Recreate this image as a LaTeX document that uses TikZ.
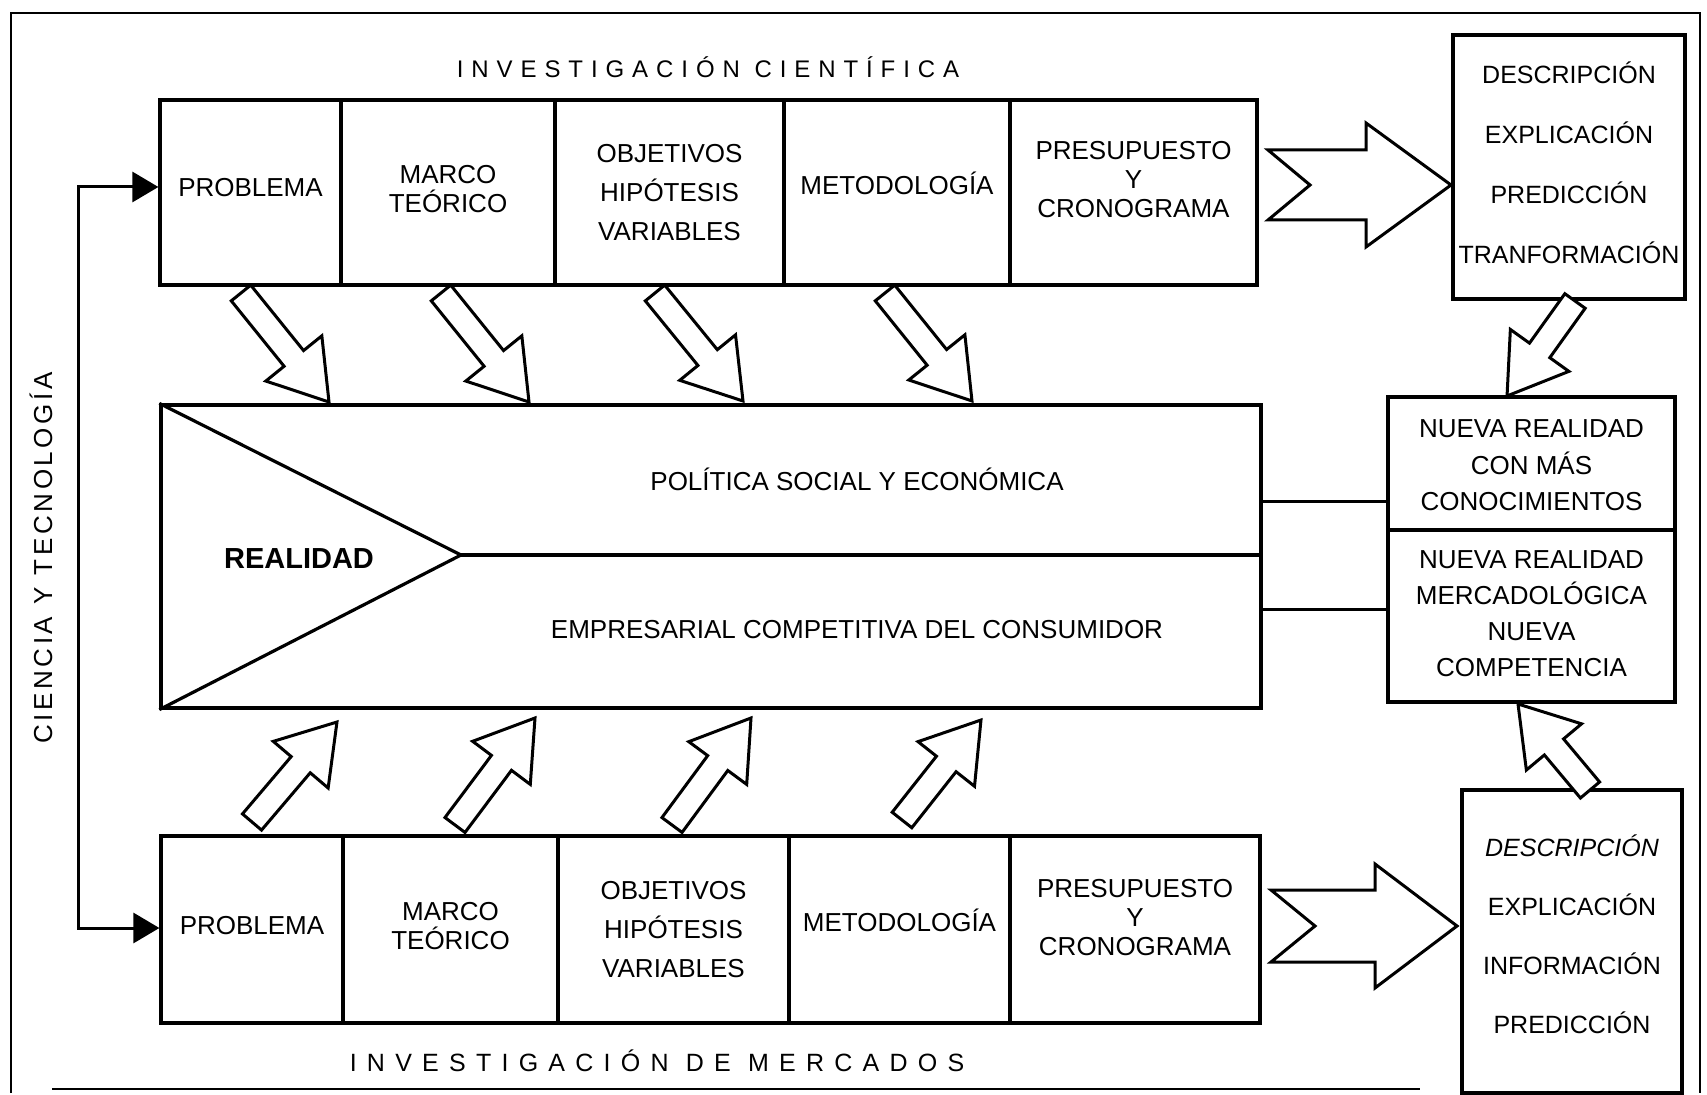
\documentclass[tikz,border=0pt]{standalone}
\usepackage{fontspec}
\setmainfont{Liberation Sans}
\newfontfamily\toptitle[LetterSpace=33]{Liberation Sans}
\newfontfamily\bottitle[LetterSpace=41]{Liberation Sans}
\newfontfamily\sidetitle[LetterSpace=14]{Liberation Sans}
\usetikzlibrary{fit,arrows.meta}

\newcommand\blkarrow[4]{%
  \pgfmathsetmacro\baang{atan2(-((#4)-(#2)),(#3)-(#1))}%
  \pgfmathsetmacro\balen{veclen((#3)-(#1),(#4)-(#2))}%
  \pgfmathsetmacro\babase{\balen-56}%
  \begin{scope}[shift={(#1,#2)},rotate=\baang]
    \draw[blk] (0,-12.5) -- (\babase,-12.5) -- (\babase,-36) -- (\balen,0)
      -- (\babase,36) -- (\babase,12.5) -- (0,12.5) -- cycle;
  \end{scope}}

\begin{document}
\begin{tikzpicture}[x=0.5pt,y=-0.5pt,
  box/.style={draw, line width=1.6pt, inner sep=0pt},
  blk/.style={draw, line width=1.5pt, fill=white, line join=miter},
  conn/.style={line width=1.5pt},
  lbl/.style={inner sep=0pt, align=center, font=\fontsize{13}{13}\selectfont}]
\useasboundingbox (0,0) rectangle (1707,1095);
% frame
\draw[line width=1.3pt] (11,1093) -- (11,13) -- (1700,13) -- (1700,1093);
\draw[line width=1.3pt] (52,1089) -- (1420,1089);

% titles
\node[inner sep=0pt, font=\toptitle\fontsize{12}{12}\selectfont] (tt) at (708,67) {INVESTIGACIÓN CIENTÍFICA};
\node[inner sep=0pt, font=\bottitle\fontsize{12.5}{12.5}\selectfont] (bt) at (657,1061) {INVESTIGACIÓN DE MERCADOS};
\node[inner sep=0pt, rotate=90, font=\sidetitle\fontsize{13}{13}\selectfont] (st) at (41,558) {CIENCIA\hspace{6pt}Y\hspace{6pt}TECNOLOGÍA};

% top row
\node[box, fit={(160,100)(341,285)}] (t1) {};
\node[box, fit={(341,100)(555,285)}] (t2) {};
\node[box, fit={(555,100)(784,285)}] (t3) {};
\node[box, fit={(784,100)(1010,285)}] (t4) {};
\node[box, fit={(1010,100)(1257,285)}] (t5) {};
\node[lbl] (t1l) at ([yshift=2.6pt]t1.center) {PROBLEMA};
\node[lbl, font=\fontsize{13}{14.5}\selectfont] (t2l) at ([yshift=1.8pt]t2.center) {MARCO\\TEÓRICO};
\node[lbl, font=\fontsize{13}{19.5}\selectfont] (t3l) at (t3.center) {OBJETIVOS\\HIPÓTESIS\\VARIABLES};
\node[lbl] (t4l) at ([yshift=4.5pt]t4.center) {METODOLOGÍA};
\node[lbl, font=\fontsize{13}{14.7}\selectfont] (t5l) at ([yshift=6.5pt]t5.center) {PRESUPUESTO\\Y\\CRONOGRAMA};

% bottom row
\node[box, fit={(161,836)(343,1023)}] (b1) {};
\node[box, fit={(343,836)(558,1023)}] (b2) {};
\node[box, fit={(558,836)(789,1023)}] (b3) {};
\node[box, fit={(789,836)(1010,1023)}] (b4) {};
\node[box, fit={(1010,836)(1260,1023)}] (b5) {};
\node[lbl] (b1l) at ([yshift=2.1pt]b1.center) {PROBLEMA};
\node[lbl, font=\fontsize{13}{14.5}\selectfont] (b2l) at ([yshift=1.8pt]b2.center) {MARCO\\TEÓRICO};
\node[lbl, font=\fontsize{13}{19.5}\selectfont] (b3l) at (b3.center) {OBJETIVOS\\HIPÓTESIS\\VARIABLES};
\node[lbl] (b4l) at ([yshift=4.5pt]b4.center) {METODOLOGÍA};
\node[lbl, font=\fontsize{13}{14.7}\selectfont] (b5l) at ([yshift=6pt]b5.center) {PRESUPUESTO\\Y\\CRONOGRAMA};

% right boxes
\node[box, fit={(1453,35)(1685,299)}] (tr) {};
\node[lbl, font=\fontsize{12.5}{30}\selectfont] (trl) at ([yshift=2.1pt]tr.center) {DESCRIPCIÓN\\EXPLICACIÓN\\PREDICCIÓN\\TRANFORMACIÓN};
\node[box, fit={(1462,790)(1682,1093)}] (br) {};
\node[lbl, font=\fontsize{12.5}{29.5}\selectfont] (brl) at ([yshift=3.75pt]br.center) {\textit{DESCRIPCIÓN}\\EXPLICACIÓN\\INFORMACIÓN\\PREDICCIÓN};
\node[box, fit={(1388,397)(1675,530)}] (ru) {};
\node[lbl, font=\fontsize{13}{18.2}\selectfont] (rul) at ([yshift=-1pt]ru.center) {NUEVA REALIDAD\\CON MÁS\\CONOCIMIENTOS};
\node[box, fit={(1388,530)(1675,702)}] (rl) {};
\node[lbl, font=\fontsize{13}{18}\selectfont] (rll) at ([yshift=1.1pt]rl.center) {NUEVA REALIDAD\\MERCADOLÓGICA\\NUEVA\\COMPETENCIA};

% center box
\node[box, fit={(161,405)(1261,708)}] (cb) {};
\coordinate (ctip) at (461,555);
\draw[line width=1.6pt] (cb.north west) -- (ctip) -- (cb.south west);
\draw[line width=1.6pt] (ctip) -- (cb.east |- ctip);
\node[lbl, font=\fontsize{14.5}{14.5}\selectfont\bfseries] (real) at (299,559) {REALIDAD};
\node[lbl] (pol) at (857,479) {POLÍTICA SOCIAL Y ECONÓMICA};
\node[lbl] (emp) at (857,630) {EMPRESARIAL COMPETITIVA DEL CONSUMIDOR};

% connectors
\draw[conn] (cb.east |- 0,502) -- (ru.west |- 0,502);
\draw[conn] (cb.east |- 0,610) -- (rl.west |- 0,610);
\coordinate (lk) at (78,557);
\draw[conn, -{Triangle[length=13pt,width=15pt]}] (lk) |- (t1.west |- 0,187);
\draw[conn, -{Triangle[length=13pt,width=15pt]}] (lk) |- (b1.west |- 0,928);

% big horizontal arrows
\draw[blk] (1268,150) -- (1366,150) -- (1366,123) -- (1451,185) -- (1366,247)
  -- (1366,220) -- (1268,220) -- (1310,185) -- cycle;
\draw[blk] (1271,890) -- (1375,890) -- (1375,864) -- (1457,926) -- (1375,988)
  -- (1375,962) -- (1271,962) -- (1315,926) -- cycle;

% diagonal arrows down
\blkarrow{241}{293}{329}{402}
\blkarrow{441}{293}{529}{402}
\blkarrow{655}{293}{743}{401}
\blkarrow{885}{293}{972}{401}
% diagonal arrows up
\blkarrow{252}{822}{337}{722}
\blkarrow{455}{825}{535}{718}
\blkarrow{672}{825}{751}{718}
\blkarrow{902}{820}{981}{720}
% right arrows
\blkarrow{1575}{301}{1507}{396}
\blkarrow{1590}{790}{1518}{704}
\end{tikzpicture}
\end{document}
